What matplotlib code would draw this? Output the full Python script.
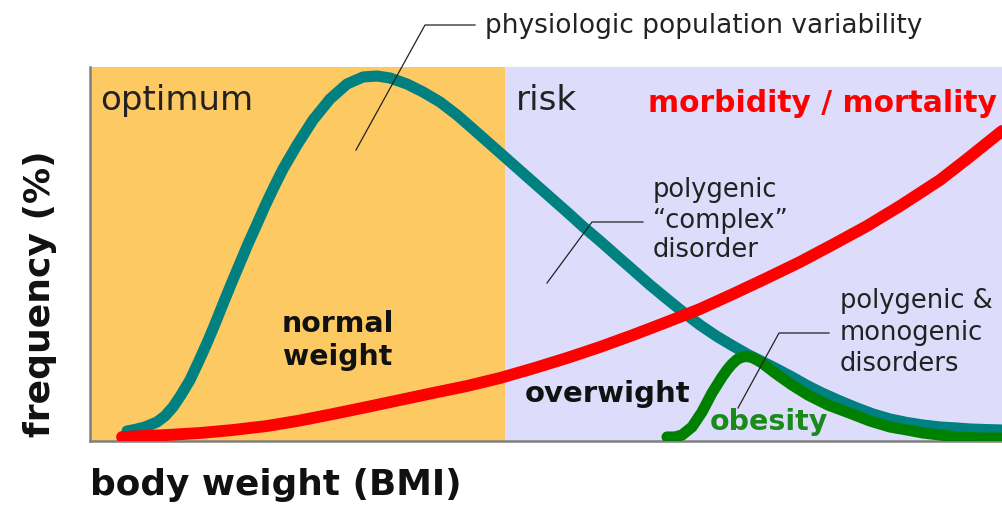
import matplotlib
matplotlib.use('Agg')
import matplotlib.pyplot as plt

# x = body weight position, y = frequency (arbitrary units)
teal_x = [37, 45, 55, 67, 75, 83, 91, 100, 108, 117, 125, 133, 142, 150, 158, 167, 175, 183,
          193, 207, 223, 240, 257, 273, 287, 300, 317, 333, 350, 367, 383, 400, 417, 430, 443,
          460, 477, 493, 510, 527, 543, 560, 577, 593, 610, 627, 643, 657, 672, 685, 702, 718,
          732, 750, 767, 783, 800, 817, 833, 850, 867, 880, 895, 912]
teal_y = [10, 11.5, 14, 19, 25, 34, 46, 61, 78, 98, 117, 137, 159, 178, 197, 217, 235, 252,
          272, 296, 321, 342, 357, 364, 365, 363, 357, 349, 339, 326, 312, 297, 282, 270.5, 259,
          244, 229, 214.5, 200, 185, 171, 156, 142, 129, 116, 104.5, 95, 87, 79.5, 73, 64, 55,
          48, 40, 33, 27, 22, 18.5, 16, 14, 13, 12, 11.5, 11]

red_x = [32, 55, 77, 110, 143, 177, 210, 243, 277, 310, 343, 377, 410, 443, 477, 510, 543,
         577, 610, 643, 677, 710, 743, 777, 810, 850, 877, 912]
red_y = [4, 5, 6, 8, 11, 15, 20.5, 27, 34, 41, 48, 55, 63, 72.5, 83, 94, 106,
         119, 132, 147, 163, 179, 196.5, 215, 235, 261, 282, 310]

green_x = [577, 585, 592, 602, 612, 622, 632, 637, 642, 647, 652, 657, 662, 667, 672, 685,
           702, 718, 738, 762, 780, 800, 817, 833, 850, 867, 890, 912]
green_y = [4, 4, 6, 14, 29, 48, 64, 71, 77, 81.5, 84, 84.5, 83.5, 81, 78, 68,
           56, 46, 36, 27, 20, 14, 11, 8, 6, 4, 3, 3]

zone_edges = [0, 415, 912]
zone_colors = ['#FDC963', '#DDDDFB']

fig = plt.figure(figsize=(10.02, 5.09), dpi=100)
ax = fig.add_axes([90/1002, 68/509, 912/1002, 374/509])
ax.set_xlim(0, 912)
ax.set_ylim(0, 374)

for i in range(len(zone_colors)):
    ax.axvspan(zone_edges[i], zone_edges[i+1], color=zone_colors[i], lw=0, zorder=0)

ax.plot(teal_x, teal_y, color='#008080', lw=8, solid_capstyle='round',
        solid_joinstyle='round', zorder=2)
ax.plot(red_x, red_y, color='#FF0000', lw=8.5, solid_capstyle='round',
        solid_joinstyle='round', zorder=3)
ax.plot(green_x, green_y, color='#008000', lw=8, solid_capstyle='round',
        solid_joinstyle='round', zorder=4)

ax.set_xticks([])
ax.set_yticks([])
for s in ['top', 'right']:
    ax.spines[s].set_visible(False)
for s in ['left', 'bottom']:
    ax.spines[s].set_color('#808080')
    ax.spines[s].set_linewidth(1.8)

# leader lines
ax.plot([266, 335, 385], [291, 416, 416], color='#222', lw=0.9, clip_on=False, zorder=5)
ax.plot([457, 502, 553], [158, 219, 219], color='#222', lw=0.9, zorder=5)
ax.plot([648, 689, 739], [33, 108, 108], color='#222', lw=0.9, zorder=5)

ax.text(10, 331, 'optimum', fontsize=24.5, color='#222', va='baseline')
ax.text(426, 331, 'risk', fontsize=24.5, color='#222', va='baseline')
ax.text(558, 329, 'morbidity / mortality', fontsize=21.4, color='#FF0000',
        fontweight='bold', va='baseline')
ax.text(395, 408, 'physiologic population variability', fontsize=19, color='#222',
        va='baseline', clip_on=False)

for txt, yy in zip(['polygenic', '\u201ccomplex\u201d', 'disorder'], [244, 213, 184]):
    ax.text(563, yy, txt, fontsize=18.5, color='#222', va='baseline')
for txt, yy in zip(['polygenic &', 'monogenic', 'disorders'], [133, 101, 70]):
    ax.text(750, yy, txt, fontsize=18.5, color='#222', va='baseline')

ax.text(248, 109, 'normal', fontsize=20.4, fontweight='bold', color='#111', ha='center', va='baseline')
ax.text(248, 76, 'weight', fontsize=20.4, fontweight='bold', color='#111', ha='center', va='baseline')
ax.text(435, 39, 'overwight', fontsize=21, fontweight='bold', color='#111', va='baseline')
ax.text(620, 11, 'obesity', fontsize=20.5, fontweight='bold', color='#1A8A1A', va='baseline', zorder=6)

fig.text(90/1002, (509-495)/509, 'body weight (BMI)', fontsize=25.8, fontweight='bold',
         color='#111', va='baseline')
fig.text(40/1002, (509-294)/509, 'frequency (%)', fontsize=26, fontweight='bold',
         color='#111', rotation=90, ha='center', va='center')

fig.savefig('out.png', dpi=100)
